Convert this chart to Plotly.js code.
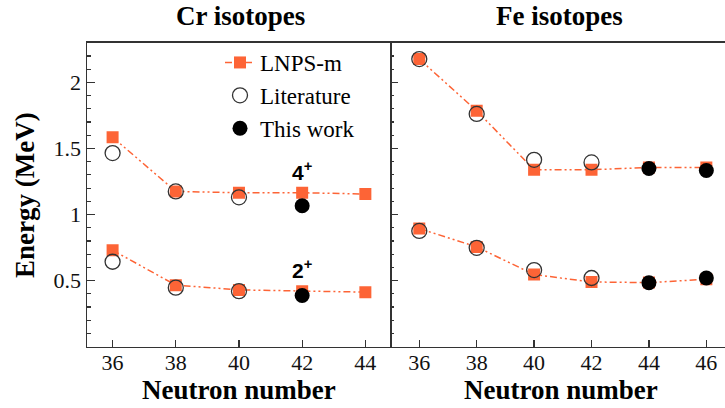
<!DOCTYPE html>
<html>
<head>
<meta charset="utf-8">
<script src="https://cdn.plot.ly/plotly-3.0.1.min.js"></script>
<style>html,body{margin:0;padding:0;background:#fff;}#plot{width:725px;height:408px;}</style>
</head>
<body>
<div id="plot"></div>
<script>
// Neutron numbers
var crN = [36, 38, 40, 42, 44];
var feN = [36, 38, 40, 42, 44, 46];

// Cr isotopes (MeV)
var crLnps4 = [1.585, 1.175, 1.165, 1.165, 1.155];
var crLnps2 = [0.73, 0.466, 0.43, 0.42, 0.413];
var crLitN = [36, 38, 40];
var crLit4 = [1.465, 1.175, 1.13];
var crLit2 = [0.643, 0.447, 0.42];
var crWorkN = [42];
var crWork4 = [1.067];
var crWork2 = [0.388];

// Fe isotopes (MeV)
var feLnps4 = [2.176, 1.785, 1.339, 1.339, 1.356, 1.356];
var feLnps2 = [0.894, 0.755, 0.546, 0.49, 0.485, 0.51];
var feLitN = [36, 38, 40, 42];
var feLit4 = [2.176, 1.761, 1.414, 1.394];
var feLit2 = [0.876, 0.748, 0.58, 0.52];
var feWorkN = [44, 46];
var feWork4 = [1.348, 1.333];
var feWork2 = [0.484, 0.52];

var xTicks = [36, 38, 40, 42, 44, 46];
var yTicks = [0.5, 1, 1.5, 2];
var yTickText = ['0.5', '1', '1.5', '2'];

var ORANGE = '#fd6436';
var DASH = '7px,3px,2px,3px,2px,3px';

function join(a, b) { return a.concat([null], b); }

var sqMarker = {symbol: 'square', size: 12, color: ORANGE};
var openMarker = {symbol: 'circle', size: 15, color: 'rgba(255,255,255,0)', line: {color: '#333', width: 1.3}};
var fullMarker = {symbol: 'circle', size: 15, color: '#000'};

var traces = [
  {x: join(crN, crN), y: join(crLnps4, crLnps2), xaxis: 'x', yaxis: 'y', mode: 'lines+markers',
   name: 'LNPS-m', legendgroup: 'a', connectgaps: false,
   line: {color: ORANGE, width: 1.5, dash: DASH}, marker: sqMarker},
  {x: join(feN, feN), y: join(feLnps4, feLnps2), xaxis: 'x2', yaxis: 'y2', mode: 'lines+markers',
   name: 'LNPS-m', showlegend: false, connectgaps: false,
   line: {color: ORANGE, width: 1.5, dash: DASH}, marker: sqMarker},
  {x: crLitN.concat(crLitN), y: crLit4.concat(crLit2), xaxis: 'x', yaxis: 'y', mode: 'markers',
   name: 'Literature', legendgroup: 'b', marker: openMarker},
  {x: feLitN.concat(feLitN), y: feLit4.concat(feLit2), xaxis: 'x2', yaxis: 'y2', mode: 'markers',
   name: 'Literature', showlegend: false, marker: openMarker},
  {x: crWorkN.concat(crWorkN), y: crWork4.concat(crWork2), xaxis: 'x', yaxis: 'y', mode: 'markers',
   name: 'This work', legendgroup: 'c', marker: fullMarker},
  {x: feWorkN.concat(feWorkN), y: feWork4.concat(feWork2), xaxis: 'x2', yaxis: 'y2', mode: 'markers',
   name: 'This work', showlegend: false, marker: fullMarker}
];

var serif = '"Liberation Serif", "Times New Roman", Times, serif';
var tickFont = {family: serif, size: 22, color: '#111'};
var titleFont = {family: serif, size: 27, color: '#000', weight: 'bold'};

function xax(domain, range) {
  return {domain: domain, range: range, tickvals: xTicks, ticktext: xTicks.map(String),
    ticks: 'inside', ticklen: 7, tickwidth: 1.2, tickcolor: '#333', ticklabelstandoff: -5,
    showline: true, linecolor: '#333', linewidth: 1.5, mirror: true, automargin: false,
    showgrid: false, zeroline: false, tickfont: tickFont};
}
function yax(anchor, showLabels) {
  return {domain: [0.1502, 0.8953], range: [0, 2.3], anchor: anchor, automargin: false,
    tickvals: yTicks, ticktext: yTickText, showticklabels: showLabels,
    ticks: 'inside', ticklen: 8, tickwidth: 1.2, tickcolor: '#333',
    minor: {dtick: 0.1, tick0: 0, ticks: 'inside', ticklen: 4, tickwidth: 1.2, tickcolor: '#333', showgrid: false},
    showline: true, linecolor: '#333', linewidth: 1.5, mirror: true,
    showgrid: false, zeroline: false, tickfont: tickFont};
}

var xa1 = xax([87/725, 390/725], [35.19, 44.78]);
var xa2 = xax([390/725, 1], [34.98, 46.65]);
xa2.anchor = 'y2'; xa1.anchor = 'y';
var ya1 = yax('x', true);
var ya2 = yax('x2', false);
ya2.showline = false; // left edge is drawn by the Cr panel frame; right edge is cut off

var supFont = {family: '"Liberation Sans", Arial, sans-serif', size: 21, color: '#000', weight: 'bold'};

var layout = {
  width: 725, height: 408,
  margin: {l: 0, r: 0, t: 0, b: 0},
  paper_bgcolor: '#fff', plot_bgcolor: '#fff',
  font: {family: serif, color: '#000'},
  xaxis: xa1, yaxis: ya1, xaxis2: xa2, yaxis2: ya2,
  showlegend: true,
  legend: {x: 220/725, y: 1 - 41/408, xanchor: 'left', yanchor: 'top',
    font: {family: serif, size: 23, color: '#000'}, bgcolor: 'rgba(0,0,0,0)',
    traceorder: 'grouped', tracegroupgap: 0, itemwidth: 30},
  annotations: [
    {text: 'Cr isotopes', xref: 'paper', yref: 'paper', x: 240/725, y: 1 - 16/408, showarrow: false,
     xanchor: 'center', yanchor: 'middle', font: titleFont},
    {text: 'Fe isotopes', xref: 'paper', yref: 'paper', x: 559/725, y: 1 - 16/408, showarrow: false,
     xanchor: 'center', yanchor: 'middle', font: titleFont},
    {text: 'Neutron number', xref: 'paper', yref: 'paper', x: 239/725, y: 1 - 390/408, showarrow: false,
     xanchor: 'center', yanchor: 'middle', font: titleFont},
    {text: 'Neutron number', xref: 'paper', yref: 'paper', x: 561/725, y: 1 - 390/408, showarrow: false,
     xanchor: 'center', yanchor: 'middle', font: titleFont},
    {text: 'Energy (MeV)', xref: 'paper', yref: 'paper', x: 25/725, y: 1 - 195/408, showarrow: false,
     textangle: -90, xanchor: 'center', yanchor: 'middle', font: titleFont},
    {text: '4<sup>+</sup>', xref: 'x', yref: 'y', x: 42, y: 1.33, showarrow: false, font: supFont},
    {text: '2<sup>+</sup>', xref: 'x', yref: 'y', x: 42, y: 0.585, showarrow: false, font: supFont}
  ]
};

Plotly.newPlot('plot', traces, layout, {staticPlot: true, displayModeBar: false});
</script>
</body>
</html>
